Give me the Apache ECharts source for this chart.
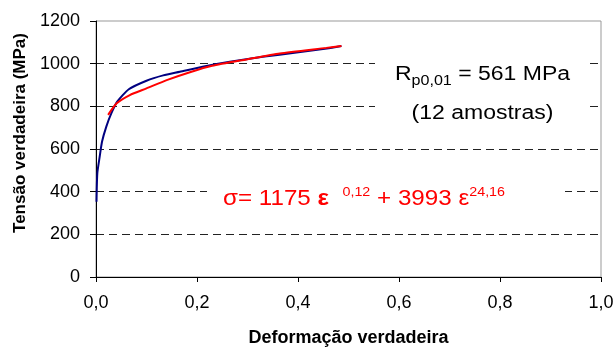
<!DOCTYPE html>
<html>
<head>
<meta charset="utf-8">
<script src="https://cdn.jsdelivr.net/npm/echarts@6.0.0/dist/echarts.min.js"></script>
<style>
  html, body { margin: 0; padding: 0; background: #fff; }
  #chart { width: 614px; height: 349px; }
</style>
</head>
<body>
<div id="chart"></div>
<script>
  // curva experimental (azul)
  var expStrain = [0.001, 0.0026, 0.0073, 0.0119, 0.0204, 0.0303, 0.042, 0.065, 0.10, 0.133, 0.166, 0.211, 0.265, 0.330, 0.397, 0.457, 0.486];
  var expStress = [353, 486, 564, 634, 705, 767, 822, 880, 920, 945, 962, 986, 1009, 1032, 1052, 1071, 1083];

  // curva ajustada (vermelha)
  var fitStrain = [0.024, 0.041, 0.067, 0.10, 0.14, 0.186, 0.23, 0.298, 0.364, 0.456, 0.486];
  var fitStress = [760, 814, 853, 884, 923, 960, 990, 1020, 1048, 1074, 1083];

  var xTicks = [0, 0.2, 0.4, 0.6, 0.8, 1.0];
  var yTicks = [0, 200, 400, 600, 800, 1000, 1200];

  var font = 'Liberation Sans, Arial, sans-serif';

  function pairs(xs, ys) {
    var out = [];
    xs.forEach(function (x, i) { out.push([x, ys[i]]); });
    return out;
  }

  var chart = echarts.init(document.getElementById('chart'));

  chart.setOption({
    animation: false,
    grid: {
      show: true,
      left: 96, right: 13, top: 21, bottom: 72,
      outerBoundsMode: 'none',
      containLabel: false,
      borderColor: '#999', borderWidth: 1,
      backgroundColor: 'transparent'
    },
    xAxis: {
      type: 'value',
      min: xTicks[0], max: xTicks[xTicks.length - 1], interval: 0.2,
      name: 'Deformação verdadeira',
      nameLocation: 'middle',
      nameGap: 52,
      nameTextStyle: { fontFamily: font, fontSize: 18, fontWeight: 'bold', color: '#000' },
      axisLine: { lineStyle: { color: '#000', width: 1 } },
      axisTick: { length: 5, lineStyle: { color: '#000' } },
      axisLabel: {
        margin: 17, fontFamily: font, fontSize: 18, color: '#000',
        formatter: function (v) { return v.toFixed(1).replace('.', ','); }
      },
      splitLine: { show: false }
    },
    yAxis: {
      type: 'value',
      min: yTicks[0], max: yTicks[yTicks.length - 1], interval: 200,
      axisLine: { show: true, lineStyle: { color: '#000', width: 1 } },
      axisTick: { show: true, length: 6, lineStyle: { color: '#000' } },
      axisLabel: {
        margin: 16, fontFamily: font, fontSize: 18, color: '#000',
        formatter: function (v) { return String(v); }
      },
      splitLine: {
        show: true, showMinLine: false, showMaxLine: false,
        lineStyle: { color: '#222', width: 1, type: [8, 5] }
      }
    },
    series: [
      {
        type: 'line', name: 'experimental',
        data: pairs(expStrain, expStress),
        showSymbol: false, smooth: 0.2,
        lineStyle: { color: '#000080', width: 2 }
      },
      {
        type: 'line', name: 'ajuste',
        data: pairs(fitStrain, fitStress),
        showSymbol: false, smooth: 0.2,
        lineStyle: { color: '#ff0000', width: 2 }
      }
    ],
    graphic: [
      /* nome do eixo y */
      {
        type: 'text', x: 20.5, y: 133, rotation: Math.PI / 2,
        style: {
          text: 'Tensão verdadeira (MPa)', fontFamily: font, fontSize: 17, fontWeight: 'bold',
          fill: '#000', align: 'center', verticalAlign: 'middle'
        }
      },
      /* fundos brancos das anotações */
      { type: 'rect', z: 50, shape: { x: 375, y: 50, width: 215, height: 75 }, style: { fill: '#fff' } },
      { type: 'rect', z: 50, shape: { x: 207, y: 180, width: 358, height: 25 }, style: { fill: '#fff' } },
      {
        type: 'text', z: 60, x: 482.5, y: 74.7, scaleX: 1.15,
        style: {
          text: '{m|R}{sub|p0,01}{m| = 561 MPa}',
          align: 'center', verticalAlign: 'middle',
          rich: {
            m: { fontFamily: font, fontSize: 20, lineHeight: 26, fill: '#000' },
            sub: { fontFamily: font, fontSize: 14, lineHeight: 8, verticalAlign: 'bottom', fill: '#000' }
          }
        }
      },
      {
        type: 'text', z: 60, x: 482.5, y: 113, scaleX: 1.15,
        style: {
          text: '(12 amostras)', fontFamily: font, fontSize: 20, fill: '#000',
          align: 'center', verticalAlign: 'middle'
        }
      },
      {
        type: 'text', z: 60, x: 364, y: 199, scaleX: 1.1,
        style: {
          text: '{s|σ}{m|= 1175 }{b|ε}{m|  }{p|0,12}{m| + 3993 ε}{q|24,16}',
          align: 'center', verticalAlign: 'middle',
          rich: {
            s: { fontFamily: font, fontSize: 22, lineHeight: 26, fill: '#ff0000' },
            m: { fontFamily: font, fontSize: 22, lineHeight: 26, fill: '#ff0000' },
            b: { fontFamily: font, fontSize: 22, lineHeight: 26, fontWeight: 'bold', fill: '#ff0000' },
            p: { fontFamily: font, fontSize: 13, lineHeight: 11, verticalAlign: 'top', fill: '#ff0000' },
            q: { fontFamily: font, fontSize: 13, lineHeight: 6, verticalAlign: 'top', fill: '#ff0000' }
          }
        }
      }
    ]
  });
</script>
</body>
</html>
